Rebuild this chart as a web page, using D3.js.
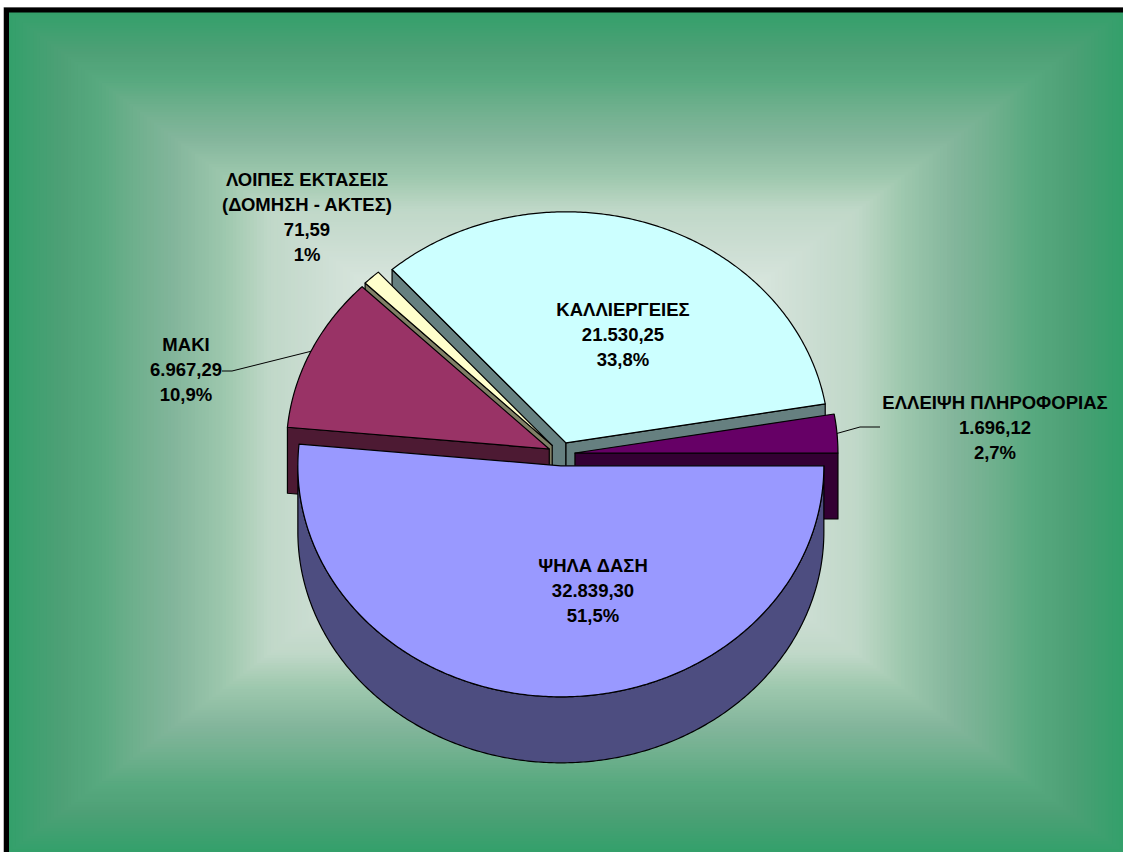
<!DOCTYPE html>
<html lang="el">
<head>
    <meta charset="UTF-8">
    <title>Κάλυψη γης</title>
    <script src="https://d3js.org/d3.v7.min.js"></script>
    <style>
        html, body { margin: 0; padding: 0; background: #fff; }
        svg { display: block; }
        text { font-family: "Liberation Sans", Arial, sans-serif; font-weight: bold; font-size: 18.5px; fill: #000; }
    </style>
</head>
<body>
    <svg id="chart" width="1123" height="852"></svg>

    <script>
        // Δεδομένα (σειρά όπως στην πίτα, δεξιόστροφα από τα ανατολικά)
        const names = ["ΨΗΛΑ ΔΑΣΗ", "ΜΑΚΙ", "ΛΟΙΠΕΣ ΕΚΤΑΣΕΙΣ\n(ΔΟΜΗΣΗ - ΑΚΤΕΣ)", "ΚΑΛΛΙΕΡΓΕΙΕΣ", "ΕΛΛΕΙΨΗ ΠΛΗΡΟΦΟΡΙΑΣ"];
        const areaLabels = ["32.839,30", "6.967,29", "71,59", "21.530,25", "1.696,12"];
        const percentLabels = ["51,5%", "10,9%", "1%", "33,8%", "2,7%"];
        const shares = [51.5, 10.9, 1.1, 33.8, 2.7];
        const colors = ["#9999ff", "#993366", "#ffffcc", "#ccffff", "#660066"];

        // Διάταξη
        const W = 1123, H = 852;
        const cx = 561.5, cy = 454, rx = 263, ry = 231, depth = 66, explode = 13.5;
        const labelPos = [[593, 572], [186, 351], [307, 186], [623, 316], [995, 409]];
        const leaderBends = { 1: [[232, 371], [222, 371]], 4: [[860, 427], [880, 427]] };
        const lineGap = 25;

        const svg = d3.select("#chart");

        // Φόντο: ορθογώνια διαβάθμιση από τις άκρες προς το κέντρο
        const box = { x0: 9, y0: 12, x1: W, y1: H };
        const mid = { x: 560, y: 432 };
        const bgColor = d3.scaleLinear()
            .domain([0, 0.09, 0.16, 0.23, 0.3, 0.39, 0.47, 0.55, 0.7, 1])
            .range(["#34a06b", "#4da076", "#58a97f", "#70b08e", "#84b69c", "#9ec8ae", "#c0d8c8", "#cbddd2", "#dfeae3", "#eef6f1"])
            .interpolate(d3.interpolateRgb);
        const bands = d3.range(0, 1, 1 / 160);
        const inset = (a, b, t) => a + (b - a) * t;

        svg.append("g").selectAll("rect").data(bands).join("rect")
            .attr("x", t => inset(box.x0, mid.x, t))
            .attr("y", t => inset(box.y0, mid.y, t))
            .attr("width", t => inset(box.x1, mid.x, t) - inset(box.x0, mid.x, t))
            .attr("height", t => inset(box.y1, mid.y, t) - inset(box.y0, mid.y, t))
            .attr("fill", t => bgColor(t));

        // Πλαίσιο
        svg.append("path")
            .attr("d", `M3.5,${H} V7.5 H${W}`)
            .attr("fill", "none").attr("stroke", "#bbb").attr("stroke-width", 1);
        svg.append("path")
            .attr("d", `M6.5,${H} V10 H${W}`)
            .attr("fill", "none").attr("stroke", "#000").attr("stroke-width", 5);

        // Πίτα
        const pie = d3.pie().sort(null).startAngle(Math.PI / 2).endAngle(Math.PI * 2.5);
        const arcs = pie(shares);

        const line = d3.line();
        const point = (o, a, y0 = 0) => [o[0] + rx * Math.sin(a), o[1] - ry * Math.cos(a) + y0];
        const sideColor = c => { const r = d3.rgb(c); return d3.rgb(r.r / 2, r.g / 2, r.b / 2).formatHex(); };

        function sample(a0, a1) {
            const n = Math.max(2, Math.ceil(Math.abs(a1 - a0) / 0.01));
            return d3.range(n + 1).map(i => a0 + (a1 - a0) * i / n);
        }

        const slices = arcs.map((d, i) => {
            const m = (d.startAngle + d.endAngle) / 2;
            const o = [cx + explode * Math.sin(m), cy - explode * ry / rx * Math.cos(m)];
            return { i, d, m, o };
        });

        // πρώτα τα πίσω κομμάτια, τελευταίο το μεγάλο μπροστά
        const order = [3, 4, 2, 1, 0];
        const pieG = svg.append("g").attr("stroke", "#000").attr("stroke-width", 1.2).attr("stroke-linejoin", "round");
        const TAU = Math.PI * 2;
        const inLeftHalf = a => { const n = ((a % TAU) + TAU) % TAU; return n > Math.PI; };

        order.forEach(k => {
            const s = slices[k];
            const side = sideColor(colors[k]);
            const a0 = s.d.startAngle, a1 = s.d.endAngle;
            const edge = a => [s.o, point(s.o, a), point(s.o, a, depth), [s.o[0], s.o[1] + depth]];

            // εσωτερικά τοιχώματα: μόνο όσα κοιτούν προς τον θεατή
            if (inLeftHalf(a0)) pieG.append("path").attr("d", line(edge(a0)) + "Z").attr("fill", side);
            if (!inLeftHalf(a1)) pieG.append("path").attr("d", line(edge(a1)) + "Z").attr("fill", side);

            // εξωτερικό τοίχωμα: μόνο το μπροστινό μισό (90° έως 270°)
            const w0 = Math.max(a0, Math.PI / 2), w1 = Math.min(a1, Math.PI * 1.5);
            if (w1 > w0) {
                const front = sample(w0, w1).map(a => point(s.o, a));
                const back = sample(w1, w0).map(a => point(s.o, a, depth));
                pieG.append("path").attr("d", line(front.concat(back)) + "Z").attr("fill", side);
            }

            // πάνω επιφάνεια
            const top = sample(a0, a1).map(a => point(s.o, a));
            pieG.append("path").attr("d", line([s.o].concat(top)) + "Z").attr("fill", colors[k]);
        });

        // Γραμμές οδηγοί
        const leaderLine = svg.append("g").attr("fill", "none").attr("stroke", "#000").attr("stroke-width", 1);
        Object.keys(leaderBends).forEach(k => {
            const s = slices[+k];
            leaderLine.append("path").attr("d", line([point(s.o, s.m)].concat(leaderBends[k])));
        });

        // Ετικέτες
        const labels = svg.append("g").attr("text-anchor", "middle");
        names.forEach((name, i) => {
            const rows = name.split("\n").concat([areaLabels[i], percentLabels[i]]);
            const t = labels.append("text").attr("x", labelPos[i][0]).attr("y", labelPos[i][1]);
            rows.forEach((r, j) => {
                t.append("tspan").attr("x", labelPos[i][0]).attr("y", labelPos[i][1] + j * lineGap).text(r);
            });
        });
    </script>
</body>
</html>
